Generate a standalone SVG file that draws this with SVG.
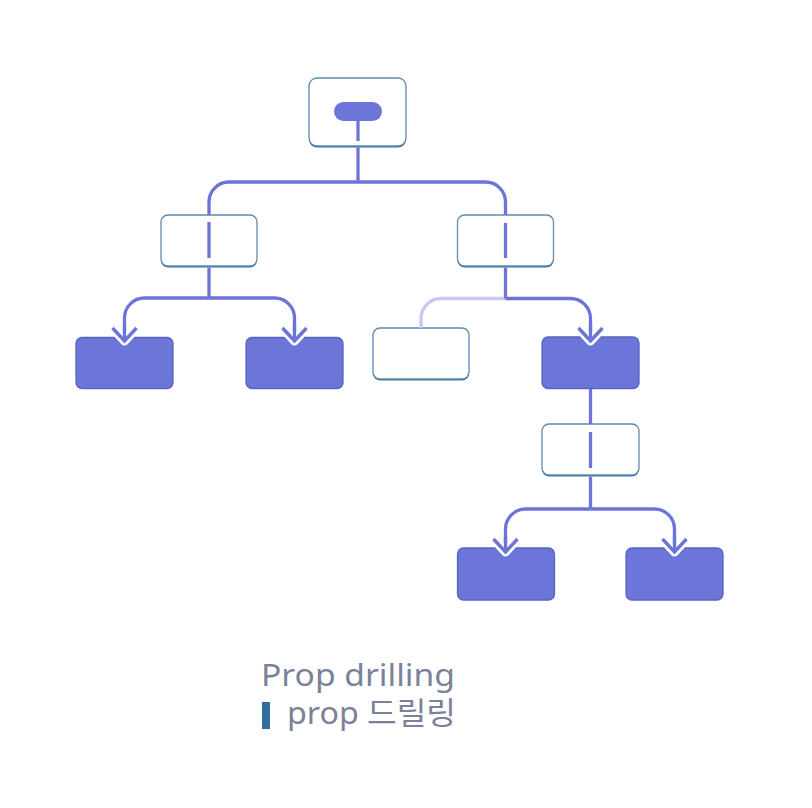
<svg xmlns="http://www.w3.org/2000/svg" width="812" height="808" viewBox="0 0 812 808">
<style>
.ob{fill:#ffffff;stroke:#5d8ab0;stroke-width:1.3}
.sh{fill:#3f6b92}
.fb{fill:#6c76d8;stroke:#5a63c0;stroke-width:1.3}
.ln{fill:none;stroke:#6c74d9;stroke-width:3.3}
.fd{fill:none;stroke:#c6c9f1;stroke-width:3.3}
.stem{stroke:#6c74d9;stroke-width:3.3}
.t{font-family:"Noto Sans","Noto Sans CJK KR",sans-serif;font-size:31px;fill:#7a829b}
</style>
<defs>
<marker id="arr" markerUnits="userSpaceOnUse" markerWidth="40" markerHeight="40" refX="0" refY="0" orient="auto" overflow="visible">
<path d="M-13,-12 L0,0 L-13,12" fill="none" stroke="#ffffff" stroke-width="9" stroke-linejoin="round" stroke-linecap="round"/>
<path d="M-16,0 H0" stroke="#6c74d9" stroke-width="3.3"/>
<path d="M-13,-12 L0,0 L-13,12" fill="none" stroke="#6c74d9" stroke-width="3.4" stroke-linejoin="miter"/>
</marker>
</defs>
<rect width="812" height="808" fill="#ffffff"/>
<g id="root">
<rect class="sh" x="309" y="79.5" width="97" height="68" rx="8"/>
<rect class="ob" x="309" y="78" width="97" height="68" rx="8"/>
<rect x="334" y="102" width="48" height="19" rx="9.5" fill="#6c76d8"/>
<line class="stem" x1="358" y1="120" x2="358" y2="141"/>
</g>
<g id="mid-left">
<rect class="sh" x="161" y="216.5" width="96" height="51" rx="7"/>
<rect class="ob" x="161" y="215" width="96" height="51" rx="7"/>
<line class="stem" x1="209" y1="222" x2="209" y2="258"/>
</g>
<g id="mid-right">
<rect class="sh" x="457.5" y="216.5" width="96" height="51" rx="7"/>
<rect class="ob" x="457.5" y="215" width="96" height="51" rx="7"/>
<line class="stem" x1="505.5" y1="223" x2="505.5" y2="258"/>
</g>
<g id="leaf-1"><rect class="fb" x="76" y="337.5" width="97" height="51" rx="6"/></g>
<g id="leaf-2"><rect class="fb" x="246" y="337.5" width="97" height="51" rx="6"/></g>
<g id="empty-leaf">
<rect class="sh" x="373" y="329.5" width="96" height="51" rx="7"/>
<rect class="ob" x="373" y="328" width="96" height="51" rx="7"/>
</g>
<g id="leaf-3"><rect class="fb" x="542" y="337" width="97" height="51.5" rx="6"/></g>
<g id="mid-bottom">
<rect class="sh" x="542" y="425.5" width="97" height="51" rx="7"/>
<rect class="ob" x="542" y="424" width="97" height="51" rx="7"/>
<line class="stem" x1="590.5" y1="432" x2="590.5" y2="468"/>
</g>
<g id="leaf-4"><rect class="fb" x="457.5" y="548" width="97" height="52" rx="6"/></g>
<g id="leaf-5"><rect class="fb" x="626" y="548" width="97" height="52" rx="6"/></g>
<g id="connectors">
<path class="ln" d="M358,147.5 V182"/>
<path class="ln" d="M358,182 H229 A20,20 0 0 0 209,202 V215"/>
<path class="ln" d="M358,182 H485.5 A20,20 0 0 1 505.5,202 V215"/>
<path class="ln" d="M209,267.5 V298"/>
<path class="ln" d="M209,298 H144.5 A20,20 0 0 0 124.5,318 V341" marker-end="url(#arr)"/>
<path class="ln" d="M209,298 H274.5 A20,20 0 0 1 294.5,318 V341" marker-end="url(#arr)"/>
<path class="fd" d="M505.5,298.5 H441 A20,20 0 0 0 421,318.5 V328"/>
<path class="ln" d="M505.5,267.5 V298.5"/>
<path class="ln" d="M505.5,298.5 H570.5 A20,20 0 0 1 590.5,318.5 V341" marker-end="url(#arr)"/>
<path class="ln" d="M590.5,389 V424"/>
<path class="ln" d="M590.5,476.5 V509"/>
<path class="ln" d="M590.5,509 H525.5 A20,20 0 0 0 505.5,529 V552" marker-end="url(#arr)"/>
<path class="ln" d="M590.5,509 H654.5 A20,20 0 0 1 674.5,529 V552" marker-end="url(#arr)"/>
</g>
<g id="legend">
<text class="t" x="261" y="686" textLength="194" lengthAdjust="spacingAndGlyphs">Prop drilling</text>
<rect x="262" y="702" width="8" height="27" fill="#2f6e9e"/>
<text class="t" x="287" y="724" textLength="169" lengthAdjust="spacingAndGlyphs">prop 드릴링</text>
</g>
</svg>
